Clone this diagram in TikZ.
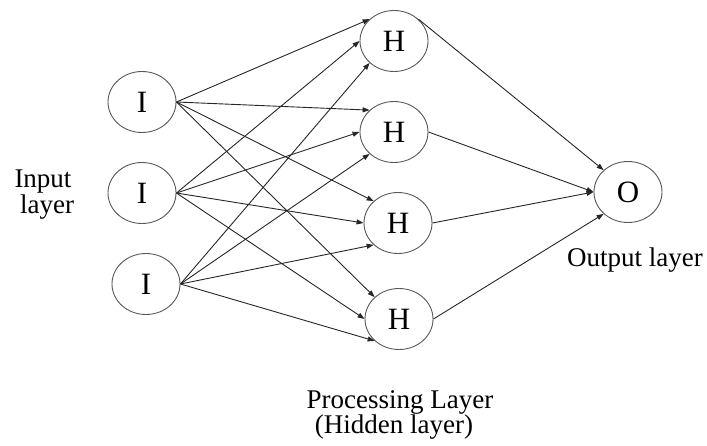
\documentclass[tikz,border=0pt]{standalone}
\usepackage{fontspec}
\setmainfont{Liberation Serif}
\usetikzlibrary{shapes.geometric,arrows.meta}
\begin{document}
\begin{tikzpicture}[x=1pt,y=-1pt,
  neuron/.style={ellipse,draw=black!65,line width=0.9pt,minimum width=68pt,minimum height=61pt,inner sep=0pt,font=\fontsize{31}{31}\selectfont},
  link/.style={draw=black!85,line width=0.9pt,-{Triangle[length=7pt,width=5pt]}},
  lbl/.style={font=\fontsize{27}{30}\selectfont,inner sep=0pt,anchor=base}]
\useasboundingbox (0,0) rectangle (707,445);
% input layer
\node[neuron] (i1) at (142,102) {I};
\node[neuron] (i2) at (142,193) {I};
\node[neuron] (i3) at (146,284) {I};
% hidden layer
\node[neuron] (h1) at (394,41) {H};
\node[neuron] (h2) at (394,132) {H};
\node[neuron] (h3) at (398,223) {H};
\node[neuron] (h4) at (399,319) {H};
% output layer
\node[neuron] (o) at (628,192) {O};
% input -> hidden
\foreach \h in {h1,h2,h3,h4}{
  \draw[link] (i1.east) -- (\h.north west);
  \draw[link] (i2.east) -- (\h.west);
  \draw[link] (i3.east) -- (\h.south west);
}
% hidden -> output
\draw[link] (h1.north east) -- (o.north west);
\draw[link] (h2.east) -- (o.west);
\draw[link] (h3.east) -- (o.west);
\draw[link] (h4.east) -- (o.south west);
% labels
\node[lbl] (inl1) at (43,187) {Input};
\node[lbl] (inl2) at (47,213) {layer};
\node[lbl] (outl) at (635,266) {Output layer};
\node[lbl] (hid1) at (400,408) {Processing Layer};
\node[lbl] (hid2) at (394,433) {(Hidden layer)};
\end{tikzpicture}
\end{document}
